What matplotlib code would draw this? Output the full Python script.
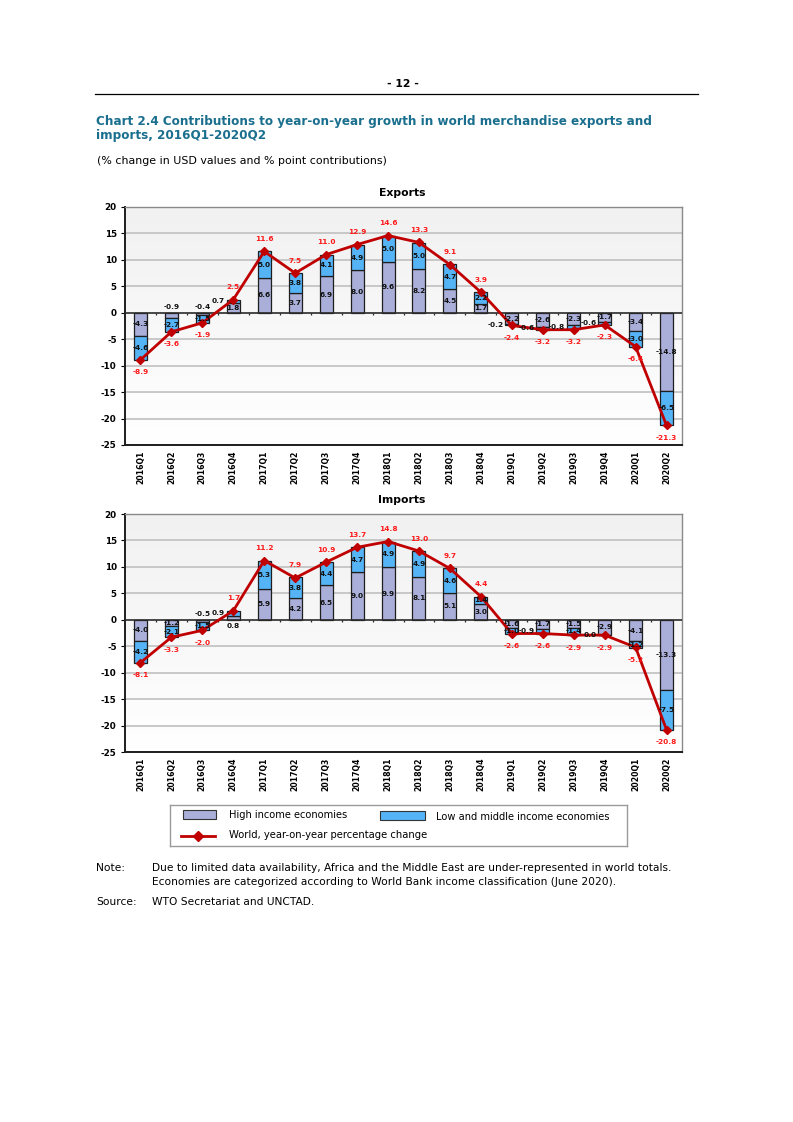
import numpy as np
import matplotlib
matplotlib.use('Agg')
import matplotlib.pyplot as plt
from matplotlib.patches import Rectangle
from matplotlib.lines import Line2D

# data
quarters = ['2016Q1', '2016Q2', '2016Q3', '2016Q4', '2017Q1', '2017Q2', '2017Q3', '2017Q4',
            '2018Q1', '2018Q2', '2018Q3', '2018Q4', '2019Q1', '2019Q2', '2019Q3', '2019Q4',
            '2020Q1', '2020Q2']

exp_high = [-4.3, -0.9, -0.4, 1.8, 6.6, 3.7, 6.9, 8.0, 9.6, 8.2, 4.5, 1.7,
            -2.2, -2.6, -2.3, -1.7, -3.4, -14.8]
exp_low = [-4.6, -2.7, -1.5, 0.7, 5.0, 3.8, 4.1, 4.9, 5.0, 5.0, 4.7, 2.2,
           -0.2, -0.6, -0.8, -0.6, -3.0, -6.5]
exp_world = [-8.9, -3.6, -1.9, 2.5, 11.6, 7.5, 11.0, 12.9, 14.6, 13.3, 9.1, 3.9,
             -2.4, -3.2, -3.2, -2.3, -6.4, -21.3]

imp_high = [-4.0, -1.2, -0.5, 0.8, 5.9, 4.2, 6.5, 9.0, 9.9, 8.1, 5.1, 3.0,
            -1.6, -1.7, -1.5, -2.9, -4.1, -13.3]
imp_low = [-4.2, -2.1, -1.5, 0.9, 5.3, 3.8, 4.4, 4.7, 4.9, 4.9, 4.6, 1.4,
           -1.0, -0.9, -1.4, 0.0, -1.2, -7.5]
imp_world = [-8.1, -3.3, -2.0, 1.7, 11.2, 7.9, 10.9, 13.7, 14.8, 13.0, 9.7, 4.4,
             -2.6, -2.6, -2.9, -2.9, -5.2, -20.8]

y_ticks = [20, 15, 10, 5, 0, -5, -10, -15, -20, -25]

C_HIGH = '#A9AFD8'
C_LOW = '#55B4F6'
C_LINE = '#C00000'
C_WLAB = '#FF1A1A'
C_TITLE = '#1A6F8E'

plt.rcParams['font.family'] = 'DejaVu Sans'

W, H = 793, 1122
fig = plt.figure(figsize=(W / 100, H / 100), dpi=100)


def fx(px):
    return px / W


def fy(py):
    return 1 - py / H


def fmt(v):
    return '%.1f' % v


def panel(top_px, bottom_px, title, high, low, world):
    ax = fig.add_axes([fx(125), fy(bottom_px), fx(682) - fx(125), fy(top_px) - fy(bottom_px)])
    x = np.arange(len(quarters))
    # soft background gradient like the original chart
    grad = np.linspace(1, 0, 100).reshape(-1, 1)
    ax.imshow(grad, extent=[0, 1, 0, 1], transform=ax.transAxes, aspect='auto',
              cmap=matplotlib.colors.LinearSegmentedColormap.from_list('g', ['#FFFFFF', '#F1F1F1']),
              zorder=0)
    for t in y_ticks:
        if t != 0:
            ax.axhline(t, color='#C4C4C4', lw=1.3, zorder=1)
    bw = 0.42
    high = np.array(high)
    low = np.array(low)
    ax.bar(x, high, width=bw, color=C_HIGH, edgecolor='#1E1E1E', lw=0.9, zorder=2)
    ax.bar(x, low, width=bw, bottom=high, color=C_LOW, edgecolor='#1E1E1E', lw=0.9, zorder=2)
    ax.axhline(0, color='#2A2A2A', lw=1.2, zorder=3)
    ax.vlines(x[:-1] + 0.5, 0, -0.45, color='#2A2A2A', lw=0.9, zorder=3)
    ax.plot(x, world, color=C_LINE, lw=2.0, marker='D', ms=4.5, zorder=4)

    lab = dict(fontsize=5.3, fontweight='bold', color='#111111', zorder=5)
    for i in x:
        h, l = high[i], low[i]
        # high income segment label
        if abs(h) >= 1.0:
            ax.text(i, h / 2, fmt(h), ha='center', va='center', **lab)
        else:
            off = 1.1 if h < 0 else -1.1
            ax.text(i, off, fmt(h), ha='center', va='center', **lab)
        # low and middle income segment label
        mid = h + l / 2
        if abs(l) >= 1.0:
            ax.text(i, mid, fmt(l), ha='center', va='center', **lab)
        else:
            ax.text(i - 0.27, mid, fmt(l), ha='right', va='center', **lab)
        # world label
        w = world[i]
        ax.annotate(fmt(w), (i, w), xytext=(0, 9 if w >= 0 else -9), textcoords='offset points',
                    ha='center', va='center', fontsize=5.3, fontweight='bold', color=C_WLAB,
                    zorder=5)

    ax.set_xlim(-0.5, len(quarters) - 0.5)
    ax.set_ylim(-25, 20)
    ax.set_yticks(y_ticks)
    ax.set_yticklabels([str(t) for t in y_ticks], fontsize=6.3, fontweight='bold')
    ax.set_xticks(x)
    ax.set_xticklabels(quarters, rotation=90, fontsize=5.6, fontweight='bold', va='top')
    ax.tick_params(axis='x', length=0, pad=4)
    ax.tick_params(axis='y', length=3, width=0.8, pad=3, direction='out')
    for s in ['left', 'bottom']:
        ax.spines[s].set_color('#1E1E1E')
        ax.spines[s].set_linewidth(1.4)
    for s in ['top', 'right']:
        ax.spines[s].set_color('#8A8A8A')
        ax.spines[s].set_linewidth(1.0)
    fig.text(fx(402), fy(top_px - 14), title, ha='center', va='center',
             fontsize=7.8, fontweight='bold')
    return ax


panel(207, 445, 'Exports', exp_high, exp_low, exp_world)
panel(514, 752, 'Imports', imp_high, imp_low, imp_world)

# page header
fig.text(fx(403), fy(84), '- 12 -', ha='center', va='center', fontsize=7.8, fontweight='bold')
fig.add_artist(Line2D([fx(95), fx(698)], [fy(94), fy(94)], color='black', lw=0.9))

fig.text(fx(96), fy(121), 'Chart 2.4 Contributions to year-on-year growth in world merchandise exports and',
         ha='left', va='center', fontsize=8.65, fontweight='bold', color=C_TITLE)
fig.text(fx(96), fy(136), 'imports, 2016Q1-2020Q2',
         ha='left', va='center', fontsize=8.65, fontweight='bold', color=C_TITLE)
fig.text(fx(97), fy(161), '(% change in USD values and % point contributions)',
         ha='left', va='center', fontsize=7.9)

# legend
lg = fig.add_axes([fx(170), fy(846), fx(627) - fx(170), fy(805) - fy(846)])
lg.set_xlim(170, 627)
lg.set_ylim(846, 805)
lg.set_xticks([])
lg.set_yticks([])
for s in lg.spines.values():
    s.set_color('#9A9A9A')
    s.set_linewidth(1.0)
lg.add_patch(Rectangle((183, 810), 33, 9, facecolor=C_HIGH, edgecolor='#333333', lw=0.8))
lg.text(229, 815, 'High income economies', ha='left', va='center', fontsize=7.1)
lg.add_patch(Rectangle((380, 811), 45, 9, facecolor=C_LOW, edgecolor='#333333', lw=0.8))
lg.text(436, 817, 'Low and middle income economies', ha='left', va='center', fontsize=7.1)
lg.plot([181, 215], [836, 836], color=C_LINE, lw=2.0)
lg.plot([198], [836], color=C_LINE, marker='D', ms=5)
lg.text(229, 835, 'World, year-on-year percentage change', ha='left', va='center', fontsize=7.2)

# notes
nfs = 7.7
fig.text(fx(96), fy(868), 'Note:', ha='left', va='center', fontsize=nfs)
fig.text(fx(152), fy(868), 'Due to limited data availability, Africa and the Middle East are under-represented in world totals.',
         ha='left', va='center', fontsize=nfs)
fig.text(fx(152), fy(882), 'Economies are categorized according to World Bank income classification (June 2020).',
         ha='left', va='center', fontsize=nfs)
fig.text(fx(96), fy(902), 'Source:', ha='left', va='center', fontsize=nfs)
fig.text(fx(152), fy(902), 'WTO Secretariat and UNCTAD.', ha='left', va='center', fontsize=nfs)

fig.savefig('out.png', dpi=100)
